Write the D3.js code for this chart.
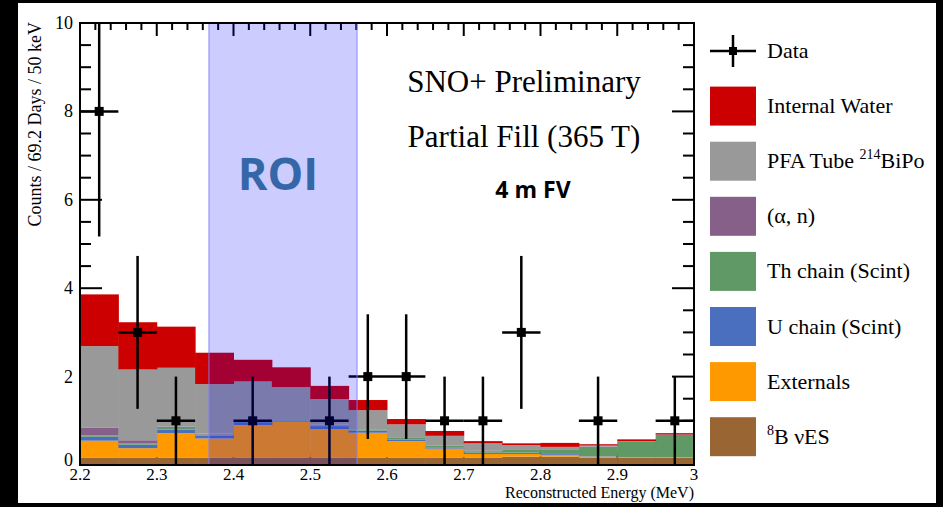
<!DOCTYPE html>
<html><head><meta charset="utf-8">
<script src="https://cdn.jsdelivr.net/npm/d3@7"></script>
<style>body{margin:0;background:#000;}svg{display:block;}</style>
</head><body>
<svg id="c" width="943" height="507"></svg>
<script>
// ---------- data ----------
const binStarts = [2.20,2.25,2.30,2.35,2.40,2.45,2.50,2.55,2.60,2.65,2.70,2.75,2.80,2.85,2.90,2.95];
const binWidth = 0.05;
// stacked components (bottom -> top)
const b8ES      = [0.17,0.17,0.17,0.17,0.17,0.17,0.17,0.17,0.17,0.17,0.17,0.19,0.19,0.17,0.17,0.17];
const externals = [0.38,0.21,0.55,0.43,0.73,0.81,0.64,0.56,0.37,0.20,0.08,0.06,0.04,0.02,0.01,0.01];
const uChain    = [0.09,0.08,0.08,0.07,0.07,0.03,0.07,0.05,0.04,0.03,0.03,0.03,0.02,0.01,0.00,0.00];
const thChain   = [0.03,0.03,0.04,0.02,0.02,0.02,0.02,0.02,0.04,0.03,0.03,0.07,0.10,0.21,0.35,0.50];
const alphaN    = [0.18,0.07,0.03,0.02,0.01,0.01,0.01,0.01,0.01,0.01,0.01,0.01,0.01,0.01,0.01,0.01];
const pfaTube   = [1.84,1.60,1.33,1.12,0.89,0.72,0.58,0.43,0.29,0.22,0.17,0.09,0.05,0.02,0.00,0.00];
const intWater  = [1.17,1.07,0.93,0.71,0.49,0.45,0.30,0.23,0.12,0.11,0.05,0.04,0.09,0.03,0.04,0.03];

const seriesNames  = ["8B","Externals","U","Th","alphaN","PFA","Water"];
const seriesValues = [b8ES, externals, uChain, thChain, alphaN, pfaTube, intWater];
const seriesColors = ["#996633","#ff9900","#4a6fbf","#609966","#87608a","#999999","#cc0000"];

const dataCenters = [2.225,2.275,2.325,2.425,2.525,2.575,2.625,2.675,2.725,2.775,2.875,2.975];
const dataCounts  = [8,3,1,1,1,2,2,1,1,3,1,1];
const dataErrors  = [2.83,1.73,1,1,1,1.41,1.41,1,1,1.73,1,1];

const roiRange = [2.368, 2.561];

const xTickValues = [2.2,2.3,2.4,2.5,2.6,2.7,2.8,2.9,3.0];
const xTickLabels = ["2.2","2.3","2.4","2.5","2.6","2.7","2.8","2.9","3"];
const yTickValues = [0,2,4,6,8,10];
const yTickLabels = ["0","2","4","6","8","10"];

// ---------- layout ----------
const svg = d3.select("#c");
const L = 80, R = 694, T = 23, B = 465;
const x = d3.scaleLinear().domain([2.2,3.0]).range([L,R]);
const y = d3.scaleLinear().domain([0,10]).range([B,T]);
const serif = "'Liberation Serif','Times New Roman',serif";

svg.append("rect").attr("width",943).attr("height",507).attr("fill","#000");
svg.append("rect").attr("x",18).attr("y",3).attr("width",918).attr("height",500).attr("fill","#fff");

svg.append("defs").append("clipPath").attr("id","plotclip")
  .append("rect").attr("x",L).attr("y",T).attr("width",R-L).attr("height",B-T);

// ticks (drawn under stack)
const tickG = svg.append("g").attr("stroke","#000").attr("stroke-width",2);
const yMinor = d3.range(0,10.01,0.5);
yMinor.forEach(v=>{
  const major = Math.abs(v/2 - Math.round(v/2))<1e-6;
  const len = major?22:11;
  tickG.append("line").attr("x1",L).attr("x2",L+len).attr("y1",y(v)).attr("y2",y(v));
  tickG.append("line").attr("x1",R).attr("x2",R-len).attr("y1",y(v)).attr("y2",y(v));
});
const xMinor = d3.range(0,41).map(i=>2.2+i*0.02);
xMinor.forEach((v,i)=>{
  const major = i%5===0;
  const len = major?13:7;
  tickG.append("line").attr("x1",x(v)).attr("x2",x(v)).attr("y1",B).attr("y2",B-len);
  tickG.append("line").attr("x1",x(v)).attr("x2",x(v)).attr("y1",T).attr("y2",T+len);
});

// stack
const stackData = binStarts.map((s,i)=>{
  const o={start:s};
  seriesNames.forEach((n,k)=>o[n]=seriesValues[k][i]);
  return o;
});
const stacked = d3.stack().keys(seriesNames)(stackData);
const stackG = svg.append("g").attr("clip-path","url(#plotclip)");
stacked.forEach((layer,k)=>{
  stackG.append("g").attr("fill",seriesColors[k])
    .selectAll("rect").data(layer).join("rect")
    .attr("x",d=>x(d.data.start))
    .attr("width",d=>x(d.data.start+binWidth)-x(d.data.start)+0.5)
    .attr("y",d=>y(d[1]))
    .attr("height",d=>Math.max(0,y(d[0])-y(d[1])));
});

// data points
const dataG = svg.append("g").attr("clip-path","url(#plotclip)").attr("stroke","#000").attr("stroke-width",2.5);
dataCenters.forEach((c,i)=>{
  const v=dataCounts[i], e=dataErrors[i];
  dataG.append("line").attr("x1",x(c)).attr("x2",x(c)).attr("y1",y(v+e)).attr("y2",y(v-e));
  dataG.append("line").attr("x1",x(c-binWidth/2)).attr("x2",x(c+binWidth/2)).attr("y1",y(v)).attr("y2",y(v));
  dataG.append("rect").attr("x",x(c)-4.5).attr("y",y(v)-4.5).attr("width",9).attr("height",9).attr("fill","#000").attr("stroke","none");
});

// ROI band
svg.append("rect").attr("x",x(roiRange[0])).attr("y",T).attr("width",x(roiRange[1])-x(roiRange[0])).attr("height",B-T)
  .attr("fill","#0000ff").attr("fill-opacity",0.2).attr("stroke","#8080ff").attr("stroke-opacity",0.6).attr("stroke-width",1.5);

// frame
svg.append("rect").attr("x",L).attr("y",T).attr("width",R-L).attr("height",B-T).attr("fill","none").attr("stroke","#000").attr("stroke-width",2);

// tick labels
svg.append("g").selectAll("text").data(xTickValues).join("text")
  .attr("x",d=>x(d)).attr("y",480).attr("text-anchor","middle")
  .attr("font-family",serif).attr("font-size",17).text((d,i)=>xTickLabels[i]);
svg.append("g").selectAll("text").data(yTickValues).join("text")
  .attr("x",73).attr("y",d=>d===0 ? y(d)+1 : y(d)+6).attr("text-anchor","end")
  .attr("font-family",serif).attr("font-size",18).text((d,i)=>yTickLabels[i]);

// axis titles
svg.append("text").attr("x",694).attr("y",498).attr("text-anchor","end")
  .attr("font-family",serif).attr("font-size",16).text("Reconstructed Energy (MeV)");
svg.append("text").attr("transform","translate(41,22) rotate(-90)").attr("text-anchor","end")
  .attr("font-family",serif).attr("font-size",18).text("Counts / 69.2 Days / 50 keV");

// annotations
svg.append("text").attr("x",524).attr("y",92).attr("text-anchor","middle")
  .attr("font-family",serif).attr("font-size",31).text("SNO+ Preliminary");
svg.append("text").attr("x",524).attr("y",147).attr("text-anchor","middle")
  .attr("font-family",serif).attr("font-size",31).text("Partial Fill (365 T)");
svg.append("text").attr("x",533).attr("y",198).attr("text-anchor","middle")
  .attr("font-family","'Open Sans',sans-serif").attr("font-weight","bold").attr("font-size",23).text("4 m FV");
svg.append("text").attr("x",278).attr("y",190).attr("text-anchor","middle")
  .attr("font-family","'Open Sans',sans-serif").attr("font-weight","bold").attr("font-size",45)
  .attr("fill","#3567a8").text("ROI");

// legend
const legG = svg.append("g");
const legY0 = 51, legStep = 55.1;
legG.append("line").attr("x1",710).attr("x2",756).attr("y1",legY0).attr("y2",legY0).attr("stroke","#000").attr("stroke-width",2.5);
legG.append("line").attr("x1",733).attr("x2",733).attr("y1",legY0-16).attr("y2",legY0+16).attr("stroke","#000").attr("stroke-width",2.5);
legG.append("rect").attr("x",729).attr("y",legY0-4).attr("width",8).attr("height",8).attr("fill","#000");
legG.append("text").attr("x",767).attr("y",legY0+7).attr("font-family",serif).attr("font-size",22).text("Data");

const legendItems = [
  {c:seriesColors[6], t:[["Internal Water"]]},
  {c:seriesColors[5], t:[["PFA Tube "],["214","sup"],["BiPo"]]},
  {c:seriesColors[4], t:[["(α, n)"]]},
  {c:seriesColors[3], t:[["Th chain (Scint)"]]},
  {c:seriesColors[2], t:[["U chain (Scint)"]]},
  {c:seriesColors[1], t:[["Externals"]]},
  {c:seriesColors[0], t:[["8","sup"],["B νES"]]}
];
legendItems.forEach((it,i)=>{
  const cy = legY0 + legStep*(i+1);
  legG.append("rect").attr("x",710).attr("y",cy-19.5).attr("width",46).attr("height",39).attr("fill",it.c);
  const tx = legG.append("text").attr("x",767).attr("y",cy+7).attr("font-family",serif).attr("font-size",22);
  let shift = 0;
  it.t.forEach(p=>{
    if(p[1]==="sup"){
      tx.append("tspan").attr("font-size",14).attr("dy",-9-shift).text(p[0]);
      shift = -9;
    } else {
      tx.append("tspan").attr("dy",-shift).text(p[0]);
      shift = 0;
    }
  });
});
</script>
</body></html>
